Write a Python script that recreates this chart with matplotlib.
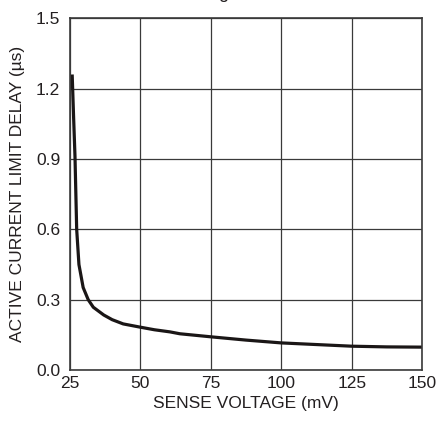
import matplotlib
matplotlib.use("Agg")
import matplotlib.pyplot as plt
import numpy as np

# sense voltage (mV) vs active current limit delay (us)
sense_mv = [25.8, 26.3, 26.8, 27.4, 28.2, 29.7, 31.5, 33.3, 37.0, 40.0, 43.9, 50.0, 55.0, 60.5, 64.0, 75.0, 87.5, 100.0, 112.5, 125.0, 137.5, 150.0]
delay_us = [1.26, 1.08, 0.91, 0.60, 0.45, 0.352, 0.30, 0.268, 0.235, 0.215, 0.197, 0.183, 0.172, 0.163, 0.155, 0.142, 0.128, 0.116, 0.109, 0.102, 0.099, 0.098]

x_ticks = [25, 50, 75, 100, 125, 150]
y_ticks = [0.0, 0.3, 0.6, 0.9, 1.2, 1.5]

plt.rcParams['font.family'] = ['Liberation Sans', 'DejaVu Sans']

fig = plt.figure(figsize=(4.37, 4.23), dpi=100)
ax = fig.add_axes([0.160, 0.125, 0.806, 0.832])

ax.plot(sense_mv, delay_us, color="#1a1616", linewidth=2.3, solid_capstyle="butt")

ax.set_xlim(25, 150)
ax.set_ylim(0, 1.5)
ax.set_xticks(x_ticks)
ax.set_yticks(y_ticks)
ax.set_yticklabels(["%.1f" % v for v in y_ticks])
ax.tick_params(length=0, labelsize=12.5, colors="#231f20")
ax.tick_params(axis="x", pad=4)
ax.tick_params(axis="y", pad=7)
ax.grid(True, color="#3a3a3a", linewidth=0.9)
for s in ax.spines.values():
    s.set_color("#3a3a3a")
    s.set_linewidth(1.2)

ax.set_xlabel("SENSE VOLTAGE (mV)", fontsize=12.5, color="#231f20", labelpad=4)
ax.set_ylabel("ACTIVE CURRENT LIMIT DELAY (\u00b5s)", fontsize=12.5, color="#231f20", labelpad=8)

# tail of the cropped title
fig.text(0.51, 1.005, "g", fontsize=13, ha="center", va="baseline", color="#231f20")

fig.savefig("out.png", dpi=100)
